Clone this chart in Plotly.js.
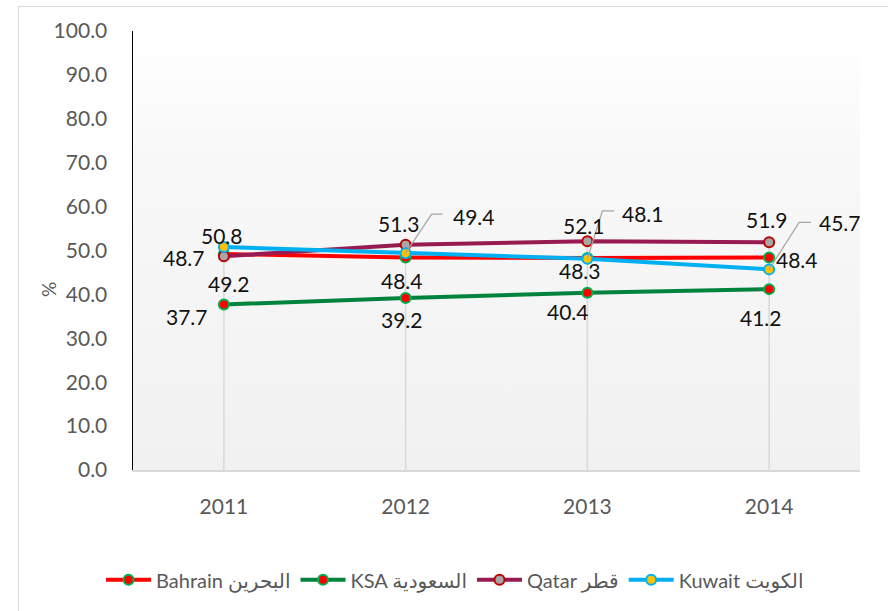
<!DOCTYPE html>
<html>
<head>
<meta charset="utf-8">
<script src="https://cdn.plot.ly/plotly-3.0.1.min.js"></script>
<style>
  html, body { margin: 0; padding: 0; background: #ffffff; }
  #frame { position: absolute; left: 18px; top: 6px; width: 900px; height: 700px;
           border: 1px solid #d9d9d9; box-sizing: border-box; pointer-events: none; }
  #chart { position: absolute; left: 0; top: 0; width: 888px; height: 611px; }
</style>
</head>
<body>
<div id="frame"></div>
<div id="chart"></div>
<script>
// ---- data ----
const years = ['2011', '2012', '2013', '2014'];
const bahrain = [49.2, 48.4, 48.3, 48.4];
const ksa = [37.7, 39.2, 40.4, 41.2];
const qatar = [48.7, 51.3, 52.1, 51.9];
const kuwait = [50.8, 49.4, 48.1, 45.7];
const seriesNames = ['Bahrain البحرين', 'KSA السعودية', 'Qatar قطر', 'Kuwait الكويت'];
const yTickVals = [0, 10, 20, 30, 40, 50, 60, 70, 80, 90, 100];

// ---- styling ----
const FONT = 'Lato, "Open Sans", "DejaVu Sans", sans-serif';
const styles = [
  { line: '#ff0000', fill: '#ff0000', edge: '#00b050' },
  { line: '#00843d', fill: '#ff0000', edge: '#00b050' },
  { line: '#971b50', fill: '#a6a6a6', edge: '#c00000' },
  { line: '#00b0f0', fill: '#ffc000', edge: '#00b0f0' }
];
const allSeries = [bahrain, ksa, qatar, kuwait];

// label offsets [xshift, yshift] per series / category (null = leader-line label)
const labelOffsets = [
  [[5, -29], [-4, -23], [-7, -13], [28, -2]],
  [[-37, -12], [-4, -22], [-19, -19], [-8, -28]],
  [[-40, -1], [-7, 21], [-3, 16], [-2, 23]],
  [[-2, 11], null, null, null]
];
// leader-line labels for Kuwait: text shift and bent path (pixels)
const leaders = [
  null,
  { text: [68, 37], path: 'M0,0L26,39L37,39' },
  { text: [56, 45], path: 'M0,0L15,48L27,48' },
  { text: [71, 47], path: 'M0,0L30,47L42,47' }
];

// drop lines from highest point of each category down to the axis
const dropX = [], dropY = [];
years.forEach((yr, i) => {
  const top = Math.max(...allSeries.map(s => s[i]));
  dropX.push(yr, yr, null);
  dropY.push(0, top, null);
});

const traces = [{
  x: dropX, y: dropY, type: 'scatter', mode: 'lines',
  line: { color: '#d9d9d9', width: 1.5 }, showlegend: false, hoverinfo: 'skip'
}];
allSeries.forEach((vals, k) => {
  traces.push({
    x: years, y: vals, name: seriesNames[k], type: 'scatter', mode: 'lines+markers',
    line: { color: styles[k].line, width: 4 },
    marker: { size: 10, color: styles[k].fill, line: { color: styles[k].edge, width: 2 } }
  });
});

const annotations = [];
const shapes = [];
const LABEL_FONT = { family: FONT, size: 21, color: '#111111' };
allSeries.forEach((vals, k) => {
  vals.forEach((v, i) => {
    const off = labelOffsets[k][i];
    if (off) {
      annotations.push({ x: i, y: v, xref: 'x', yref: 'y', text: v.toFixed(1),
        showarrow: false, xanchor: 'center', yanchor: 'middle',
        xshift: off[0], yshift: off[1], font: LABEL_FONT });
    } else {
      const L = leaders[i];
      annotations.push({ x: i, y: v, xref: 'x', yref: 'y', text: v.toFixed(1),
        showarrow: false, xanchor: 'center', yanchor: 'middle',
        xshift: L.text[0], yshift: L.text[1], font: LABEL_FONT });
      shapes.push({ type: 'path', xref: 'x', yref: 'y', xsizemode: 'pixel', ysizemode: 'pixel',
        xanchor: i, yanchor: v, path: L.path,
        line: { color: '#a6a6a6', width: 1.25 } });
    }
  });
});
annotations.push({ xref: 'paper', yref: 'paper', x: -0.117, y: 0.412, text: '%',
  xanchor: 'center', yanchor: 'middle',
  textangle: -90, showarrow: false, font: { family: FONT, size: 19, color: '#595959' } });

const grad = 'data:image/svg+xml;utf8,' + encodeURIComponent(
  '<svg xmlns="http://www.w3.org/2000/svg" width="100" height="100" preserveAspectRatio="none">' +
  '<defs><linearGradient id="g" x1="0" y1="0" x2="0" y2="1">' +
  '<stop offset="0" stop-color="#ffffff"/><stop offset="0.3" stop-color="#f8f8f8"/>' +
  '<stop offset="1" stop-color="#f1f1f1"/></linearGradient></defs>' +
  '<rect width="100" height="100" fill="url(#g)"/></svg>');

const layout = {
  width: 888, height: 611,
  margin: { l: 133, r: 28, t: 31, b: 141 },
  paper_bgcolor: 'rgba(0,0,0,0)', plot_bgcolor: 'rgba(0,0,0,0)',
  font: { family: FONT, color: '#595959' },
  hovermode: false,
  images: [{ source: grad, xref: 'paper', yref: 'paper', x: 0, y: 1, sizex: 1, sizey: 1,
    sizing: 'stretch', layer: 'below', xanchor: 'left', yanchor: 'top' }],
  xaxis: {
    type: 'category', range: [-0.5, 3.5], showgrid: false, zeroline: false,
    showline: true, linecolor: '#d9d9d9', linewidth: 1.5, ticks: '',
    tickfont: { family: FONT, size: 21, color: '#595959' }, ticklabelstandoff: 17,
    fixedrange: true
  },
  yaxis: {
    range: [0, 100], tickvals: yTickVals, tickformat: '.1f', showgrid: false, zeroline: false,
    showline: true, linecolor: '#000000', linewidth: 1.5, ticks: '',
    tickfont: { family: FONT, size: 21, color: '#595959' }, ticklabelstandoff: 20,
    fixedrange: true
  },
  showlegend: true,
  legend: {
    orientation: 'h', x: 0.443, xanchor: 'center', y: -0.25, yanchor: 'middle',
    font: { family: FONT, size: 20, color: '#595959' }, bgcolor: 'rgba(0,0,0,0)',
    traceorder: 'normal', itemwidth: 45
  },
  annotations: annotations,
  shapes: shapes
};

Plotly.newPlot('chart', traces, layout, { displayModeBar: false, staticPlot: true });
</script>
</body>
</html>
